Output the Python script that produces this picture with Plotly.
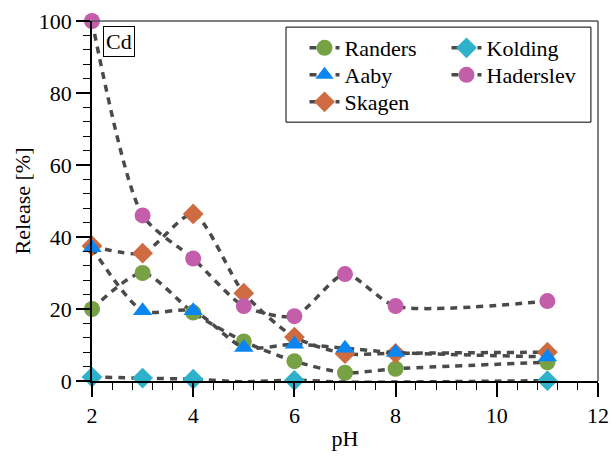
import plotly.graph_objects as go

ph = [2, 3, 4, 5, 6, 7, 8, 11]
randers = [20, 30, 19, 11, 5.5, 2.3, 3.4, 5.2]
aaby = [37, 19.5, 19.5, 9.3, 10.2, 9.1, 7.9, 6.7]
skagen = [37.5, 35.5, 46.4, 24.4, 12.2, 7.6, 7.7, 8]
kolding = [1.1, 0.8, 0.5, -0.2, 0.2, -0.3, -0.3, 0.1]
haderslev = [100, 46, 34, 20.8, 18, 29.7, 20.8, 22.2]

FONT = "Liberation Serif"
LFS = 22
# name, values, symbol, colour, legend id, legend x, legend y (paper)
series = [
    ("Randers", randers, "circle", "#77A145", "legend", 0.420, 0.925),
    ("Kolding", kolding, "diamond", "#2FB0CB", "legend4", 0.7006, 0.925),
    ("Skagen", skagen, "diamond", "#CF6B40", "legend3", 0.420, 0.775),
    ("Aaby", aaby, "triangle-up", "#0B86F0", "legend2", 0.420, 0.85),
    ("Haderslev", haderslev, "circle", "#C35FAA", "legend5", 0.7006, 0.85),
]

fig = go.Figure()
legends = {}
for name, vals, sym, col, lg, lx, ly in series:
    fig.add_trace(go.Scatter(
        x=ph, y=vals, name=name, mode="lines+markers",
        line=dict(color="#4a4a4a", width=3.5, dash="7px,6px", shape="spline", smoothing=0.7),
        marker=dict(symbol=sym, color=col, size=16 if sym != "triangle-up" else 17,
                    line=dict(width=0)),
        cliponaxis=False, legend=lg, showlegend=True,
    ))
    legends[lg] = dict(x=lx, y=ly, xanchor="left", yanchor="middle",
                       bgcolor="rgba(0,0,0,0)", borderwidth=0,
                       font=dict(family=FONT, size=LFS, color="black"))

fig.add_annotation(x=0.022, y=0.985, xref="paper", yref="paper", text="Cd",
                   showarrow=False, xanchor="left", yanchor="top",
                   font=dict(family=FONT, size=22, color="black"),
                   bordercolor="black", borderwidth=1, borderpad=2, bgcolor="white")

# legend frame
fig.add_shape(type="rect", xref="paper", yref="paper", x0=0.3834, x1=0.986, y0=0.719, y1=0.983,
              line=dict(color="black", width=1), layer="above")
# top/right frame
fig.add_shape(type="line", xref="paper", yref="paper", x0=0, x1=1, y0=1, y1=1,
              line=dict(color="#555", width=1.5))
fig.add_shape(type="line", xref="paper", yref="paper", x0=1, x1=1, y0=0, y1=1,
              line=dict(color="#555", width=1.5))

fig.update_layout(
    width=613, height=457,
    margin=dict(l=92, r=15, t=21, b=76, autoexpand=False),
    plot_bgcolor="white", paper_bgcolor="white",
    font=dict(family=FONT, size=22, color="black"),
    showlegend=True,
    **legends,
    xaxis=dict(range=[2, 12], tickvals=[2, 4, 6, 8, 10, 12], showgrid=False, zeroline=False,
               showline=True, linecolor="black", linewidth=1.5, automargin=False,
               ticks="outside", ticklen=14, tickwidth=1.5, tickcolor="black",
               minor=dict(dtick=0.4, ticks="outside", ticklen=7, tickwidth=1.2, tickcolor="black"),
               title=dict(text="pH", font=dict(size=22), standoff=3),
               tickfont=dict(size=22)),
    yaxis=dict(range=[0, 100], tickvals=[0, 20, 40, 60, 80, 100], showgrid=False, zeroline=False,
               showline=True, linecolor="black", linewidth=1.5, automargin=False,
               ticks="outside", ticklen=14, tickwidth=1.5, tickcolor="black",
               minor=dict(dtick=4, ticks="outside", ticklen=7, tickwidth=1.2, tickcolor="black"),
               title=dict(text="Release [%]", font=dict(size=22), standoff=2),
               tickfont=dict(size=22)),
)

fig.write_html("out.html")
